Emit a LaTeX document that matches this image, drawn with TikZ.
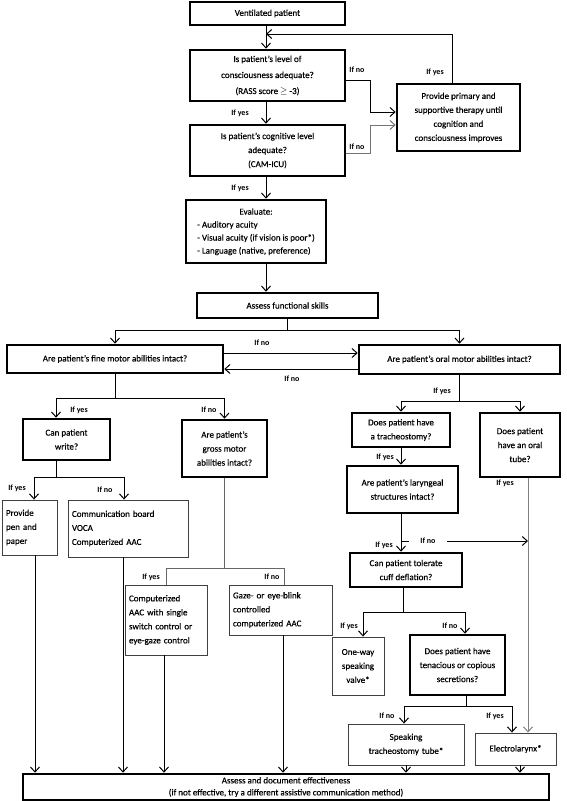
\documentclass[tikz,border=0pt]{standalone}
\usepackage{fontspec}
\setmainfont{Carlito}[UprightFeatures={FakeBold=0.35}]
\usetikzlibrary{arrows.meta}

\begin{document}
\begin{tikzpicture}[x=1pt,y=-1pt,
  font=\fontsize{9}{14}\selectfont,
  thickbox/.style={draw,line width=2.6pt,align=center,inner sep=1pt},
  thinbox/.style={draw=black!75,line width=0.9pt,align=left,inner xsep=4pt,inner ysep=2pt},
  iflabel/.style={font=\fontsize{8}{8}\selectfont\bfseries,inner sep=1pt},
  arr/.style={line width=1pt,-{Straight Barb[length=5pt,width=9pt]}},
  conn/.style={line width=1pt}]
\useasboundingbox (0,0) rectangle (567,801);

% main column
\node[thickbox,minimum width=155,minimum height=23] (vent) at (267.5,13.5) {Ventilated patient};
\node[thickbox,minimum width=155,minimum height=51,font=\fontsize{9}{16}\selectfont] (cons) at (267.5,75.5) {Is patient’s level of\\consciousness adequate?\\(RASS score $\geq$ -3)};
\node[thickbox,minimum width=155,minimum height=51] (cog) at (267.5,150.5) {Is patient’s cognitive level\\adequate?\\(CAM-ICU)};
\node[thickbox,minimum width=123,minimum height=67] (therapy) at (458.5,117.5) {Provide primary and\\supportive therapy until\\cognition and\\consciousness improves};
\node[thickbox,minimum width=140,minimum height=63,font=\fontsize{9}{13}\selectfont] (eval) at (256,231.5) {\begin{tabular}{@{}l@{}}\multicolumn{1}{@{}c@{}}{Evaluate:}\\- Auditory acuity\\- Visual acuity (if vision is poor*)\\- Language (native, preference)\end{tabular}};
\node[thickbox,minimum width=181,minimum height=25] (assess) at (287.5,305.5) {Assess functional skills};
\node[thickbox,minimum width=216,minimum height=28] (fine) at (115,359) {Are patient’s fine motor abilities intact?};
\node[thickbox,minimum width=201,minimum height=29] (oral) at (459.5,359.5) {Are patient’s oral motor abilities intact?};

% fine motor side
\node[thickbox,minimum width=87,minimum height=41] (write) at (66.5,439.5) {Can patient\\write?};
\node[thickbox,minimum width=85,minimum height=57] (gross) at (224.5,448.5) {Are patient’s\\gross motor\\abilities intact?};
\node[thinbox,text width=47,minimum height=55] (pen) at (29.5,527.5) {Provide\\pen and\\paper};
\node[thinbox,text width=112,minimum height=57] (comm) at (128,528.5) {Communication board\\VOCA\\Computerized AAC};
\node[thinbox,text width=74,minimum height=70] (compaac) at (166,620) {Computerized\\AAC with single\\switch control or\\eye-gaze control};
\node[thinbox,text width=95,minimum height=50] (gaze) at (280.5,610) {Gaze- or eye-blink\\controlled\\computerized AAC};

% oral motor side
\node[thickbox,minimum width=98,minimum height=34] (trach) at (401,430) {Does patient have\\a tracheostomy?};
\node[thickbox,minimum width=80,minimum height=64] (oraltube) at (520,445) {Does patient\\have an oral\\tube?};
\node[thickbox,minimum width=111,minimum height=47] (laryn) at (402.5,489.5) {Are patient’s laryngeal\\structures intact?};
\node[thickbox,minimum width=112,minimum height=34] (cuff) at (406,570) {Can patient tolerate\\cuff deflation?};
\node[thinbox,align=center,text width=44,minimum height=58] (oneway) at (358,666) {One-way\\speaking\\valve*};
\node[thickbox,minimum width=95,minimum height=60] (secr) at (457.5,665) {Does patient have\\tenacious or copious\\secretions?};
\node[thinbox,align=center,text width=108,minimum height=41] (spktube) at (406,744.5) {Speaking\\tracheostomy tube*};
\node[thinbox,align=center,text width=73,minimum height=32] (electro) at (515.5,749) {Electrolarynx*};

% last box
\node[thickbox,minimum width=526,minimum height=26,inner ysep=0pt,font=\fontsize{9}{12}\selectfont] (final) at (286,787) {Assess and document effectiveness\\(if not effective, try a different assistive communication method)};

% spine
\coordinate (spine) at (266,0);
\draw[arr] (vent.south -| spine) -- (cons.north -| spine);
\draw[arr] (cons.south -| spine) -- (cog.north -| spine);
\draw[arr] (cog.south -| spine) -- (eval.north -| spine);
\draw[arr] (eval.south -| spine) -- (assess.north -| spine);
\node[iflabel] (yes1) at (240,113) {If yes};
\node[iflabel] (yes2) at (240,188) {If yes};

% back to the top
\coordinate (loop) at (452,34);
\draw[arr] (therapy.north -| loop) -- (loop) -- (loop -| spine);
\node[iflabel] (yes3) at (435,72) {If yes};

% not adequate
\coordinate (no1a) at (370,80);
\coordinate (no1b) at (370,112);
\draw[arr] (cons.east |- no1a) -- (no1a) -- (no1b) -- (therapy.west |- no1b);
\node[iflabel] (no1) at (357,70) {If no};
\coordinate (no2a) at (370,153);
\coordinate (no2b) at (370,125);
\draw[arr,draw=black!55] (cog.east |- no2a) -- (no2a) -- (no2b) -- (therapy.west |- no2b);
\node[iflabel] (no2) at (357,147) {If no};

% functional skills
\coordinate (fork0) at (287.5,330);
\draw[conn] (assess) -- (fork0);
\draw[arr] (fork0) -| (fine);
\draw[arr] (fork0) -| (oral);
\coordinate (row1) at (0,353);
\coordinate (row2) at (0,369);
\draw[arr] (fine.east |- row1) -- (oral.west |- row1);
\draw[arr] (oral.west |- row2) -- (fine.east |- row2);
\node[iflabel] (no3) at (262,343) {If no};
\node[iflabel] (no4) at (292,379) {If no};

% fine motor
\coordinate (fork1) at (115,398);
\coordinate (wcol) at (56,0);
\draw[conn] (fine) -- (fork1);
\draw[arr] (fork1) -| (write.north -| wcol);
\draw[arr] (fork1) -| (gross);
\node[iflabel] (yes4) at (79,410) {If yes};
\node[iflabel] (no5) at (209,410) {If no};

% can write
\coordinate (fork2) at (56,477);
\coordinate (pcol) at (34,0);
\coordinate (ccol) at (124,0);
\draw[conn] (write.south -| fork2) -- (fork2);
\draw[arr] (fork2) -| (pen.north -| pcol);
\draw[arr] (fork2) -| (comm.north -| ccol);
\node[iflabel] (yes5) at (17,488) {If yes};
\node[iflabel] (no6) at (105,490) {If no};

% gross motor
\coordinate (fork3) at (224.5,568);
\coordinate (gcol) at (284,0);
\draw[conn,draw=black!60] (gross) -- (fork3) -| (compaac);
\draw[conn,draw=black!60] (fork3) -| (gaze.north -| gcol);
\node[iflabel] (yes6) at (151,577) {If yes};
\node[iflabel] (no7) at (272,577) {If no};

% oral motor
\coordinate (fork4) at (459.5,401);
\draw[conn] (oral) -- (fork4);
\draw[arr] (fork4) -| (trach);
\draw[arr] (fork4) -| (oraltube);
\node[iflabel] (yes7) at (442,391) {If yes};
\draw[arr] (trach) -- (trach.south |- laryn.north);
\node[iflabel] (yes8) at (385,457) {If yes};

% laryngeal structures
\coordinate (lcol) at (401,0);
\coordinate (tubecol) at (528,0);
\draw[arr] (laryn.south -| lcol) -- (cuff.north -| lcol);
\node[iflabel] (yes9) at (384,545) {If yes};
\coordinate (nolar) at (401,541);
\draw[arr] (nolar) -- (nolar -| tubecol);
\node[iflabel,fill=white,inner xsep=11pt] (no8) at (428,541) {If no};
\draw[arr,draw=black!50] (oraltube.south -| tubecol) -- (electro.north -| tubecol);
\node[iflabel] (yes10) at (505,483) {If yes};

% cuff deflation
\coordinate (fork5) at (403,612);
\coordinate (vcol) at (363,0);
\coordinate (scol) at (465,0);
\draw[conn] (cuff.south -| fork5) -- (fork5);
\draw[arr] (fork5) -| (oneway.north -| vcol);
\draw[arr] (fork5) -| (secr.north -| scol);
\node[iflabel] (yes11) at (349,626) {If yes};
\node[iflabel] (no9) at (450,626) {If no};

% secretions
\coordinate (fork6) at (466,706);
\coordinate (tcol) at (404,0);
\coordinate (ecol) at (512,0);
\draw[conn] (secr.south -| fork6) -- (fork6);
\draw[arr] (fork6) -| (spktube.north -| tcol);
\draw[arr] (fork6) -| (electro.north -| ecol);
\node[iflabel] (no10) at (387,716) {If no};
\node[iflabel] (yes12) at (495,716) {If yes};

% into the last box
\coordinate (end1) at (35,0);
\coordinate (end2) at (123,0);
\coordinate (end3) at (164,0);
\coordinate (end4) at (283,0);
\coordinate (end5) at (406,0);
\coordinate (end6) at (520,0);
\draw[arr] (pen.south -| end1) -- (final.north -| end1);
\draw[arr] (comm.south -| end2) -- (final.north -| end2);
\draw[arr] (compaac.south -| end3) -- (final.north -| end3);
\draw[arr] (gaze.south -| end4) -- (final.north -| end4);
\draw[arr] (spktube.south -| end5) -- (final.north -| end5);
\draw[arr] (electro.south -| end6) -- (final.north -| end6);
\end{tikzpicture}
\end{document}
